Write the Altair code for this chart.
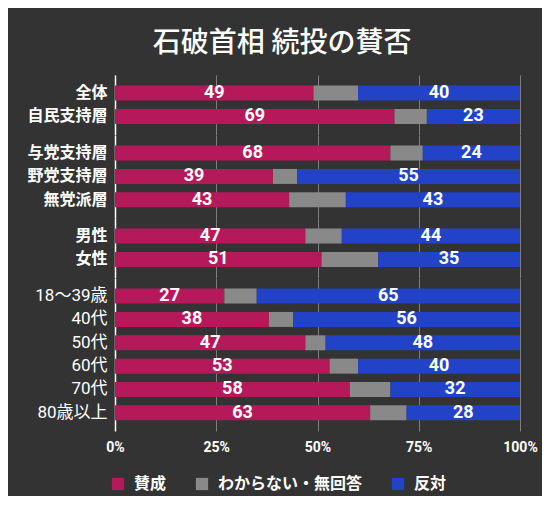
import altair as alt
import pandas as pd

categories = ["全体", "自民支持層", "与党支持層", "野党支持層", "無党派層", "男性", "女性",
              "18〜39歳", "40代", "50代", "60代", "70代", "80歳以上"]
groups = [0, 0, 1, 1, 1, 2, 2, 3, 3, 3, 3, 3, 3]
agree = [49, 69, 68, 39, 43, 47, 51, 27, 38, 47, 53, 58, 63]
unknown = [11, 8, 8, 6, 14, 9, 14, 8, 6, 5, 7, 10, 9]
oppose = [40, 23, 24, 55, 43, 44, 35, 65, 56, 48, 40, 32, 28]
responses = ["賛成", "わからない・無回答", "反対"]
colors = ["#b5195a", "#898989", "#2243c8"]
tick_values = [0, 25, 50, 75, 100]

rows = []
for i, c in enumerate(categories):
    for j, (r, v) in enumerate(zip(responses, (agree[i], unknown[i], oppose[i]))):
        rows.append({"cat": c, "grp": groups[i], "resp": r, "ord": j, "pct": v})
df = pd.DataFrame(rows)

FONT = "Roboto, Noto Sans CJK JP"
STEP = 23.35
legend = alt.Legend(orient="none", direction="horizontal", legendX=-5, legendY=401,
                    title=None, symbolType="square", symbolSize=150, symbolStrokeWidth=0,
                    labelFontSize=16, labelFontWeight="bold", labelColor="white",
                    labelFont=FONT, columnPadding=27, labelOffset=8)


def panel(g, last):
    cats = [c for c, gg in zip(categories, groups) if gg == g]
    base = alt.Chart(df).transform_filter(alt.datum.grp == g)
    xaxis = alt.Axis(values=tick_values, labelExpr="datum.value + '%'", grid=True,
                     ticks=False, domain=False, title=None, labels=last, labelFlush=False,
                     labelFontSize=14, labelFontWeight="bold", labelPadding=10)
    yenc = alt.Y("cat:N", sort=cats, title=None,
                 scale=alt.Scale(paddingInner=0.358, paddingOuter=0.454),
                 axis=alt.Axis(ticks=False, labelPadding=8,
                               labelFontSize=17 if g == 3 else 16,
                               labelFontWeight="normal" if g == 3 else "bold",
                               minExtent=88, maxExtent=88))
    bars = base.mark_bar().encode(
        x=alt.X("pct:Q", stack="zero", scale=alt.Scale(domain=[0, 100]), axis=xaxis),
        y=yenc,
        color=alt.Color("resp:N", scale=alt.Scale(domain=responses, range=colors),
                        legend=legend),
        order=alt.Order("ord:Q"),
    )
    text = base.transform_stack(
        stack="pct", groupby=["cat"], as_=["x0", "x1"],
        sort=[alt.SortField("ord", order="ascending")]
    ).transform_filter(alt.datum.resp != "わからない・無回答").transform_calculate(
        mid="(datum.x0 + datum.x1) / 2"
    ).mark_text(font=FONT, fontSize=18, fontWeight="bold", color="white").encode(
        x=alt.X("mid:Q"), y=yenc, text=alt.Text("pct:Q")
    )
    return alt.layer(bars, text).properties(width=405, height=alt.Step(STEP))


chart = alt.vconcat(*[panel(g, g == 3) for g in range(4)], spacing=0).resolve_scale(
    y="independent", color="shared"
).properties(
    title=alt.Title("石破首相 続投の賛否", fontSize=28, fontWeight=500, color="white",
                    font=FONT, anchor="middle", offset=17),
    background="#333333",
    padding={"left": 18, "right": 4, "top": 22, "bottom": 4},
).configure_view(stroke=None).configure_axis(
    labelColor="white", labelFont=FONT, gridColor="#bbbbbb", gridOpacity=0.55,
    domainColor="white", domainWidth=1.5, zindex=1,
)

chart.save("out.html", embed_options={"renderer": "svg", "actions": False})
